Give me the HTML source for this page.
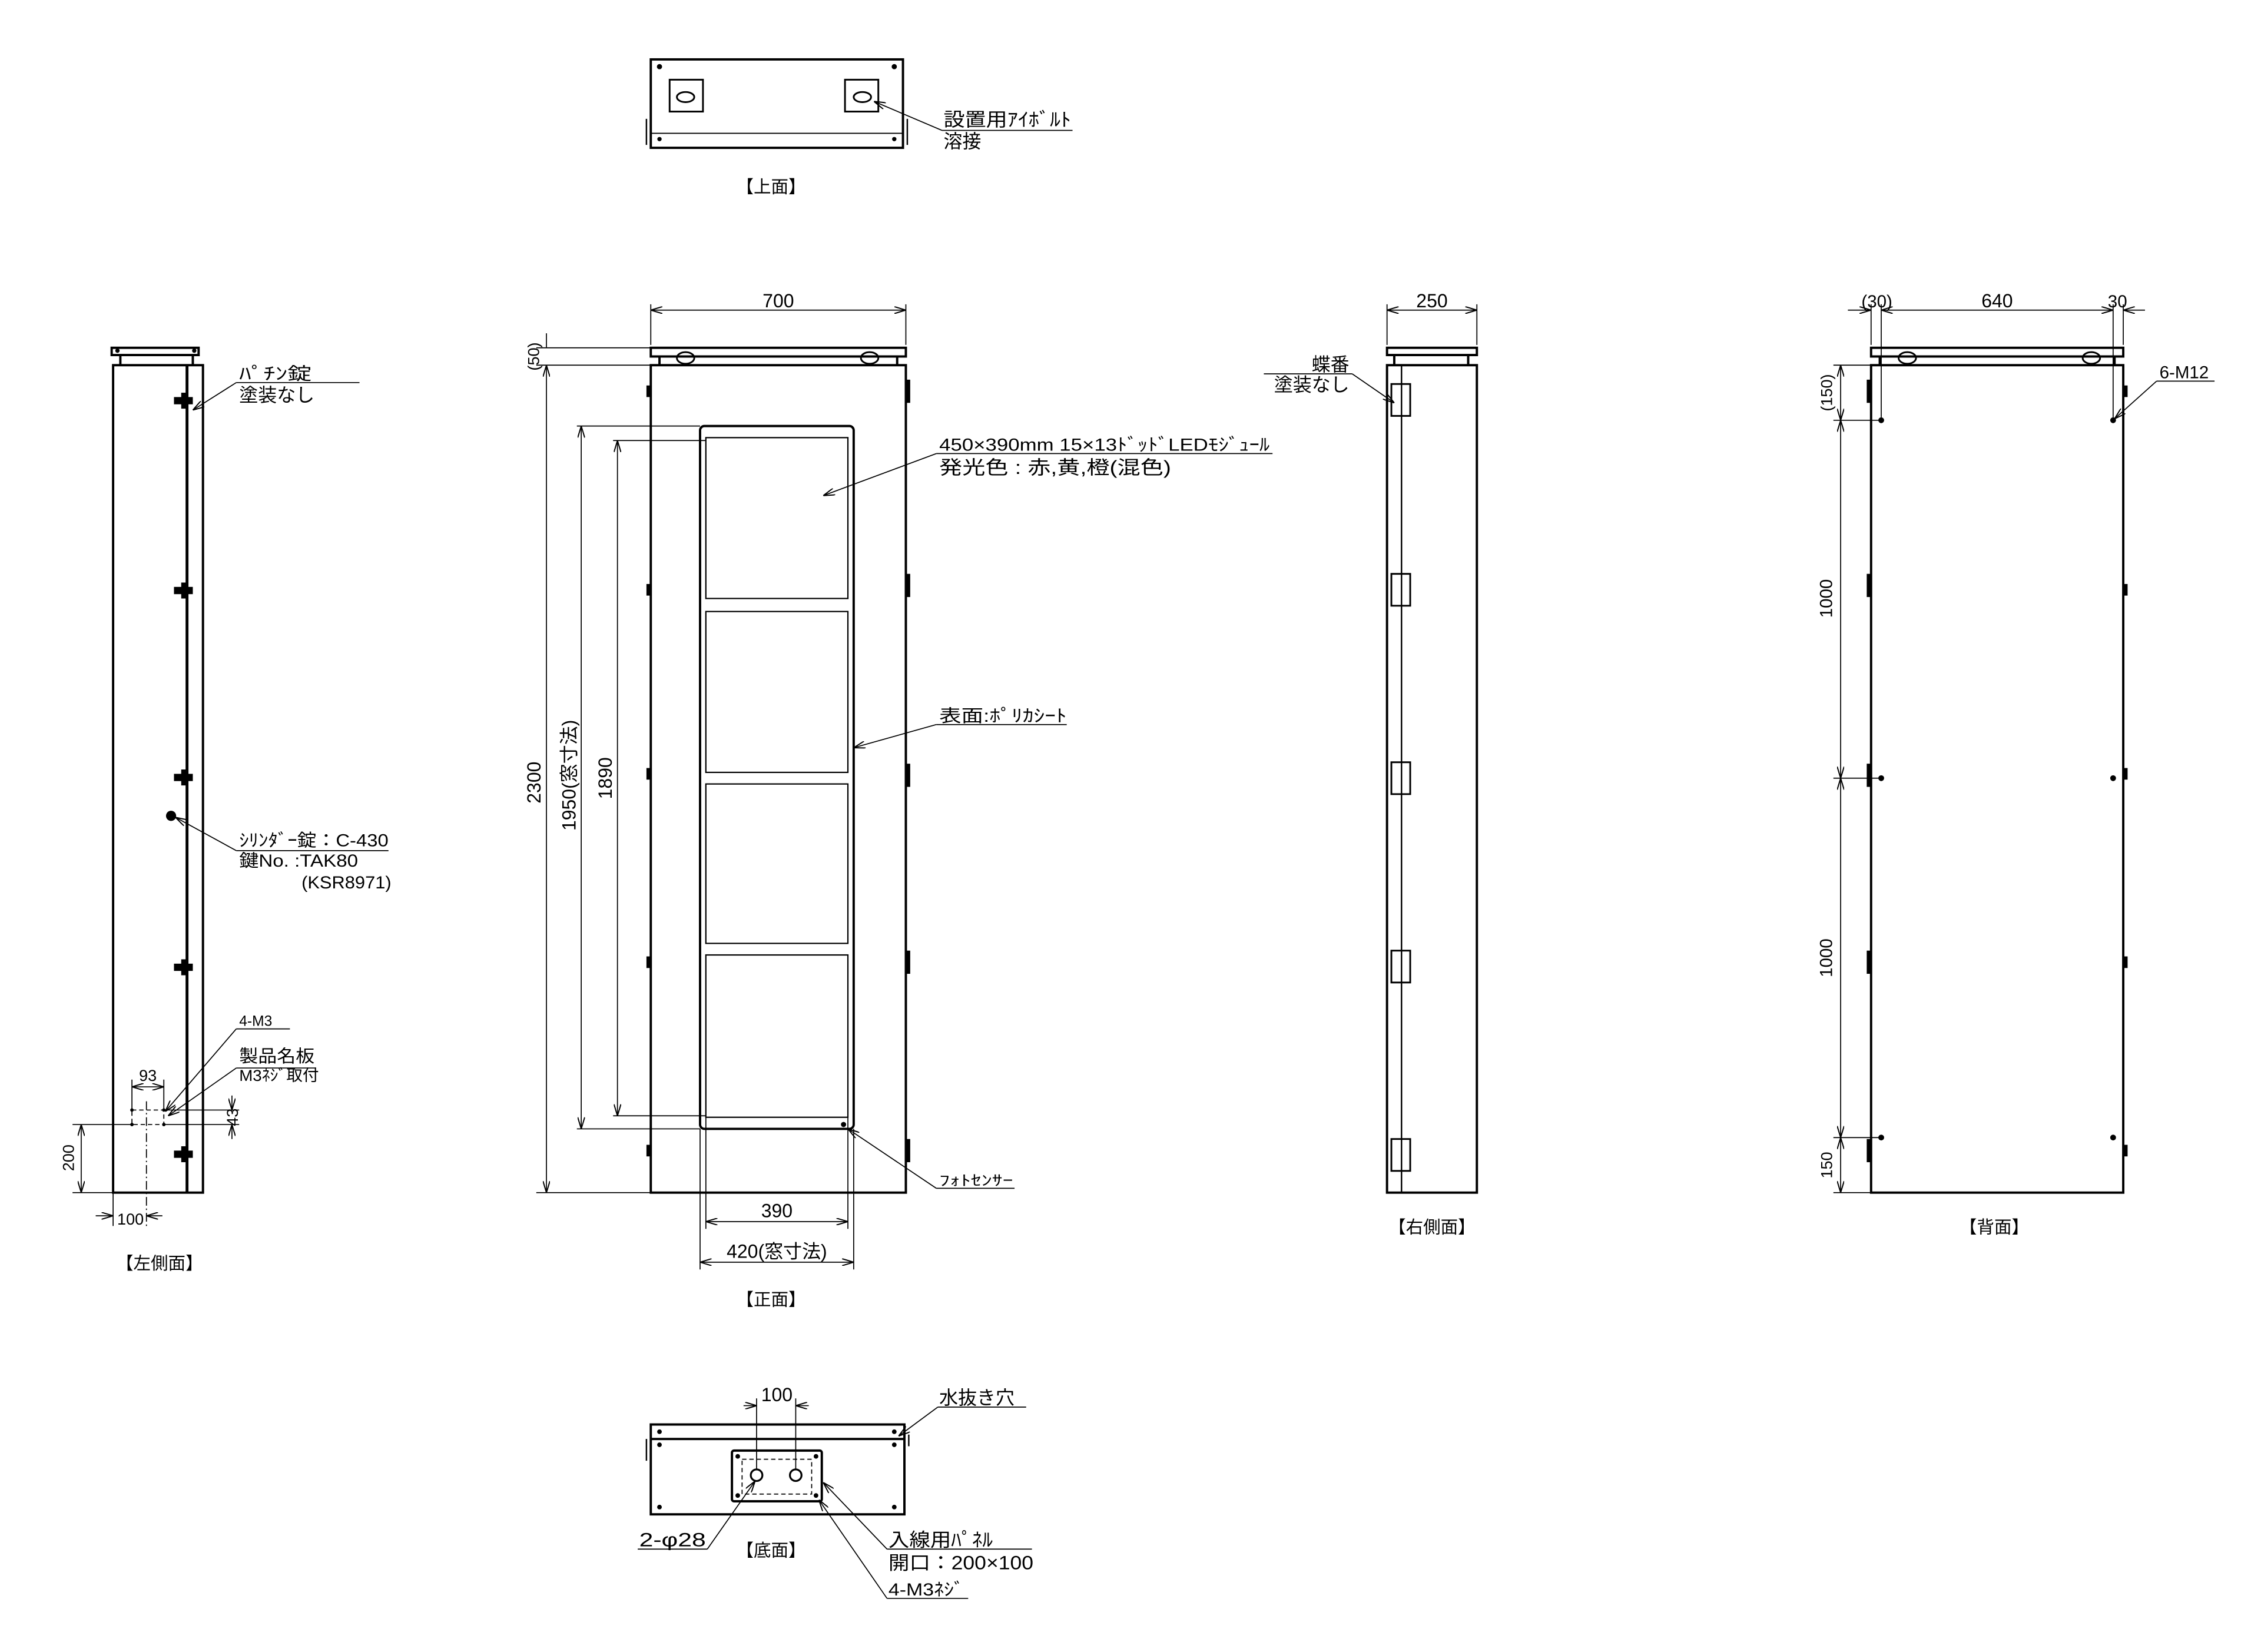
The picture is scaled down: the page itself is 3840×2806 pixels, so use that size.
<!DOCTYPE html>
<html><head><meta charset="utf-8"><style>
html,body{margin:0;padding:0;background:#fff;}
svg{display:block}
text{font-family:"Liberation Sans","Noto Sans CJK JP",sans-serif;fill:#000;}
</style></head><body>
<svg width="3840" height="2806" viewBox="0 0 1560 1140" xmlns="http://www.w3.org/2000/svg">
<defs>
<marker id="a" viewBox="0 0 10 6" refX="10" refY="3" markerWidth="8" markerHeight="5" orient="auto-start-reverse" markerUnits="userSpaceOnUse"><path d="M0,0 L10,3 L0,6" fill="none" stroke="#000" stroke-width="1"/></marker>
</defs>
<g fill="none" stroke="#000" stroke-width="1.6">
<!-- TOP VIEW -->
<rect x="449" y="41" width="174" height="61"/>
<line x1="449" y1="92" x2="623" y2="92" stroke-width="0.8"/>
<rect x="462" y="55" width="23" height="22" stroke-width="1.2"/>
<rect x="583" y="55" width="23" height="22" stroke-width="1.2"/>
<ellipse cx="473" cy="67" rx="6" ry="3.5" stroke-width="1.2"/>
<ellipse cx="595" cy="67" rx="6" ry="3.5" stroke-width="1.2"/>
<path d="M446,82 v18 M626,82 v18" stroke-width="1"/>
</g>
<g fill="#000">
<circle cx="455" cy="46" r="1.8"/><circle cx="617" cy="46" r="1.8"/>
<circle cx="455" cy="96" r="1.5"/><circle cx="617" cy="96" r="1.5"/>
</g>
<g stroke="#000" stroke-width="0.7" fill="none">
<line x1="650" y1="90" x2="740" y2="90"/><line x1="650" y1="90" x2="603" y2="70" marker-end="url(#a)"/>
</g>
<text x="651" y="87" font-size="13" textLength="88" lengthAdjust="spacingAndGlyphs">設置用ｱｲﾎﾞﾙﾄ</text>
<text x="651" y="102" font-size="13">溶接</text>
<text x="508" y="133" font-size="12">【上面】</text>

<!-- FRONT VIEW -->
<g fill="none" stroke="#000" stroke-width="1.6">
<rect x="449" y="240" width="176" height="6"/>
<rect x="449" y="252" width="176" height="571"/>
<rect x="483" y="294" width="106" height="485" rx="3"/>
<g stroke-width="0.9">
<rect x="487" y="302" width="98" height="111"/>
<rect x="487" y="422" width="98" height="111"/>
<rect x="487" y="541" width="98" height="110"/>
<rect x="487" y="659" width="98" height="112"/>
</g>
<line x1="455" y1="246" x2="455" y2="252"/><line x1="619" y1="246" x2="619" y2="252"/>
<ellipse cx="473" cy="247" rx="6" ry="4" stroke-width="1.2"/>
<ellipse cx="600" cy="247" rx="6" ry="4" stroke-width="1.2"/>
</g>
<g fill="#000">
<rect x="446" y="266" width="3" height="8"/><rect x="446" y="403" width="3" height="8"/><rect x="446" y="530" width="3" height="8"/><rect x="446" y="660" width="3" height="8"/><rect x="446" y="790" width="3" height="8"/>
<rect x="625" y="262" width="3" height="16"/><rect x="625" y="396" width="3" height="16"/><rect x="625" y="527" width="3" height="16"/><rect x="625" y="656" width="3" height="16"/><rect x="625" y="786" width="3" height="16"/>
<circle cx="582" cy="776" r="1.8"/>
</g>
<g stroke="#000" stroke-width="0.7" fill="none">
<line x1="449" y1="210" x2="449" y2="238"/><line x1="625" y1="210" x2="625" y2="238"/>
<line x1="449" y1="214" x2="625" y2="214" marker-start="url(#a)" marker-end="url(#a)"/>
<line x1="370" y1="240" x2="449" y2="240"/><line x1="370" y1="252" x2="449" y2="252"/><line x1="370" y1="823" x2="449" y2="823"/>
<line x1="377" y1="230" x2="377" y2="240" /><line x1="377" y1="252" x2="377" y2="823" marker-start="url(#a)" marker-end="url(#a)"/>
<line x1="398" y1="294" x2="483" y2="294"/><line x1="398" y1="779" x2="483" y2="779"/>
<line x1="401" y1="294" x2="401" y2="779" marker-start="url(#a)" marker-end="url(#a)"/>
<line x1="423" y1="304" x2="487" y2="304"/><line x1="423" y1="770" x2="487" y2="770"/>
<line x1="426" y1="304" x2="426" y2="770" marker-start="url(#a)" marker-end="url(#a)"/>
<line x1="487" y1="771" x2="487" y2="848"/><line x1="585" y1="771" x2="585" y2="848"/>
<line x1="483" y1="779" x2="483" y2="876"/><line x1="589" y1="779" x2="589" y2="876"/>
<line x1="487" y1="843" x2="585" y2="843" marker-start="url(#a)" marker-end="url(#a)"/>
<line x1="483" y1="871" x2="589" y2="871" marker-start="url(#a)" marker-end="url(#a)"/>
<line x1="646" y1="313" x2="878" y2="313"/><line x1="646" y1="313" x2="568" y2="342" marker-end="url(#a)"/>
<line x1="646" y1="500" x2="736" y2="500"/><line x1="646" y1="500" x2="589" y2="516" marker-end="url(#a)"/>
<line x1="646" y1="820" x2="700" y2="820"/><line x1="646" y1="820" x2="585" y2="779" marker-end="url(#a)"/>
</g>
<text x="537" y="212" font-size="13" text-anchor="middle">700</text>
<text transform="translate(372,246) rotate(-90)" font-size="11" text-anchor="middle">(50)</text>
<text transform="translate(373,540) rotate(-90)" font-size="13" text-anchor="middle">2300</text>
<text transform="translate(397,535) rotate(-90)" font-size="13" text-anchor="middle">1950(窓寸法)</text>
<text transform="translate(422,537) rotate(-90)" font-size="13" text-anchor="middle">1890</text>
<text x="536" y="840" font-size="13" text-anchor="middle">390</text>
<text x="536" y="868" font-size="13" text-anchor="middle">420(窓寸法)</text>
<text x="648" y="311" font-size="12" textLength="228" lengthAdjust="spacingAndGlyphs">450×390mm 15×13ﾄﾞｯﾄﾞLEDﾓｼﾞｭｰﾙ</text>
<text x="648" y="327" font-size="13" textLength="160" lengthAdjust="spacingAndGlyphs">発光色 : 赤,黄,橙(混色)</text>
<text x="648" y="498" font-size="12" textLength="88" lengthAdjust="spacingAndGlyphs">表面:ﾎﾟﾘｶｼｰﾄ</text>
<text x="648" y="818" font-size="10" textLength="51" lengthAdjust="spacingAndGlyphs">ﾌｫﾄｾﾝｻｰ</text>
<text x="508" y="901" font-size="12">【正面】</text>

<!-- LEFT SIDE -->
<g fill="none" stroke="#000" stroke-width="1.6">
<rect x="77" y="240" width="60" height="5"/>
<rect x="78" y="252" width="62" height="571"/>
<line x1="129" y1="252" x2="129" y2="823" stroke-width="2"/>
<line x1="83" y1="245" x2="83" y2="252"/><line x1="133" y1="245" x2="133" y2="252"/>
</g>
<g fill="#000">
<circle cx="81" cy="242" r="1.5"/><circle cx="134" cy="242" r="1.5"/>
<g id="lt"><rect x="120" y="274" width="13" height="5"/><rect x="125" y="271" width="4" height="11"/></g>
<use href="#lt" y="131"/><use href="#lt" y="260"/><use href="#lt" y="391"/><use href="#lt" y="520"/>
<circle cx="118" cy="563" r="3.5"/>
<circle cx="91" cy="766" r="1.2"/><circle cx="113" cy="766" r="1.2"/><circle cx="91" cy="776" r="1.2"/><circle cx="113" cy="776" r="1.2"/>
</g>
<g stroke="#000" stroke-width="0.7" fill="none">
<rect x="91" y="766" width="22" height="10" stroke-dasharray="3,2"/>
<line x1="101" y1="760" x2="101" y2="846" stroke-dasharray="6,2,1,2"/>
<line x1="163" y1="264" x2="248" y2="264"/><line x1="163" y1="264" x2="133" y2="283" marker-end="url(#a)"/>
<line x1="163" y1="587" x2="268" y2="587"/><line x1="163" y1="587" x2="121" y2="564" marker-end="url(#a)"/>
<line x1="163" y1="710" x2="200" y2="710"/><line x1="163" y1="710" x2="114" y2="767" marker-end="url(#a)"/>
<line x1="163" y1="737" x2="218" y2="737"/><line x1="163" y1="737" x2="116" y2="770" marker-end="url(#a)"/>
<line x1="91" y1="745" x2="91" y2="766"/><line x1="113" y1="745" x2="113" y2="766"/>
<line x1="91" y1="750" x2="113" y2="750" marker-start="url(#a)" marker-end="url(#a)"/>
<line x1="113" y1="766" x2="165" y2="766"/><line x1="113" y1="776" x2="165" y2="776"/>
<line x1="160" y1="756" x2="160" y2="766" marker-end="url(#a)"/><line x1="160" y1="786" x2="160" y2="776" marker-end="url(#a)"/>
<line x1="50" y1="776" x2="91" y2="776"/><line x1="50" y1="823" x2="78" y2="823"/>
<line x1="56" y1="776" x2="56" y2="823" marker-start="url(#a)" marker-end="url(#a)"/>
<line x1="78" y1="823" x2="78" y2="846"/>
<line x1="66" y1="839" x2="78" y2="839" marker-end="url(#a)"/><line x1="112" y1="839" x2="101" y2="839" marker-end="url(#a)"/>
</g>
<text x="165" y="262" font-size="12" textLength="50" lengthAdjust="spacingAndGlyphs">ﾊﾟﾁﾝ錠</text>
<text x="165" y="277" font-size="13">塗装なし</text>
<text x="165" y="584" font-size="12" textLength="103" lengthAdjust="spacingAndGlyphs">ｼﾘﾝﾀﾞｰ錠：C-430</text>
<text x="165" y="598" font-size="12" textLength="82" lengthAdjust="spacingAndGlyphs">鍵No. :TAK80</text>
<text x="208" y="613" font-size="12" textLength="62" lengthAdjust="spacingAndGlyphs">(KSR8971)</text>
<text x="165" y="708" font-size="10">4-M3</text>
<text x="165" y="733" font-size="12" textLength="52" lengthAdjust="spacingAndGlyphs">製品名板</text>
<text x="165" y="746" font-size="11" textLength="55" lengthAdjust="spacingAndGlyphs">M3ﾈｼﾞ取付</text>
<text x="102" y="746" font-size="11" text-anchor="middle">93</text>
<text transform="translate(164,771) rotate(-90)" font-size="11" text-anchor="middle">43</text>
<text transform="translate(51,799) rotate(-90)" font-size="11" text-anchor="middle">200</text>
<text x="90" y="845" font-size="11" text-anchor="middle">100</text>
<text x="80" y="876" font-size="12">【左側面】</text>

<!-- RIGHT SIDE -->
<g fill="none" stroke="#000" stroke-width="1.6">
<rect x="957" y="240" width="62" height="5"/>
<rect x="957" y="252" width="62" height="571"/>
<line x1="967" y1="252" x2="967" y2="823" stroke-width="1"/>
<line x1="962" y1="245" x2="962" y2="252"/><line x1="1013" y1="245" x2="1013" y2="252"/>
</g>
<g fill="none" stroke="#000" stroke-width="1.2">
<rect x="960" y="265" width="13" height="22"/><rect x="960" y="396" width="13" height="22"/><rect x="960" y="526" width="13" height="22"/><rect x="960" y="656" width="13" height="22"/><rect x="960" y="786" width="13" height="22"/>
</g>
<g stroke="#000" stroke-width="0.7" fill="none">
<line x1="957" y1="210" x2="957" y2="238"/><line x1="1019" y1="210" x2="1019" y2="238"/>
<line x1="957" y1="214" x2="1019" y2="214" marker-start="url(#a)" marker-end="url(#a)"/>
<line x1="872" y1="258" x2="933" y2="258"/><line x1="933" y1="258" x2="962" y2="278" marker-end="url(#a)"/>
</g>
<text x="988" y="212" font-size="13" text-anchor="middle">250</text>
<text x="931" y="256" font-size="13" text-anchor="end">蝶番</text>
<text x="931" y="270" font-size="13" text-anchor="end">塗装なし</text>
<text x="958" y="851" font-size="12">【右側面】</text>

<!-- BACK -->
<g fill="none" stroke="#000" stroke-width="1.6">
<rect x="1291" y="240" width="174" height="6"/>
<rect x="1291" y="252" width="174" height="571"/>
<line x1="1297" y1="246" x2="1297" y2="252"/><line x1="1459" y1="246" x2="1459" y2="252"/>
<ellipse cx="1316" cy="247" rx="6" ry="4" stroke-width="1.2"/>
<ellipse cx="1443" cy="247" rx="6" ry="4" stroke-width="1.2"/>
</g>
<g fill="#000">
<circle cx="1298" cy="290" r="2"/><circle cx="1458" cy="290" r="2"/><circle cx="1298" cy="537" r="2"/><circle cx="1458" cy="537" r="2"/><circle cx="1298" cy="785" r="2"/><circle cx="1458" cy="785" r="2"/>
<rect x="1288" y="262" width="3" height="16"/><rect x="1288" y="396" width="3" height="16"/><rect x="1288" y="527" width="3" height="16"/><rect x="1288" y="656" width="3" height="16"/><rect x="1288" y="786" width="3" height="16"/>
<rect x="1465" y="266" width="3" height="8"/><rect x="1465" y="403" width="3" height="8"/><rect x="1465" y="530" width="3" height="8"/><rect x="1465" y="660" width="3" height="8"/><rect x="1465" y="790" width="3" height="8"/>
</g>
<g stroke="#000" stroke-width="0.7" fill="none">
<line x1="1291" y1="210" x2="1291" y2="238"/><line x1="1298" y1="210" x2="1298" y2="288"/><line x1="1458" y1="210" x2="1458" y2="288"/><line x1="1465" y1="210" x2="1465" y2="238"/>
<line x1="1275" y1="214" x2="1291" y2="214" marker-end="url(#a)"/><line x1="1298" y1="214" x2="1458" y2="214" marker-start="url(#a)" marker-end="url(#a)"/><line x1="1480" y1="214" x2="1465" y2="214" marker-end="url(#a)"/>
<line x1="1265" y1="252" x2="1291" y2="252"/><line x1="1265" y1="290" x2="1298" y2="290"/><line x1="1265" y1="537" x2="1298" y2="537"/><line x1="1265" y1="785" x2="1298" y2="785"/><line x1="1265" y1="823" x2="1291" y2="823"/>
<line x1="1270" y1="252" x2="1270" y2="290" marker-start="url(#a)" marker-end="url(#a)"/>
<line x1="1270" y1="290" x2="1270" y2="537" marker-start="url(#a)" marker-end="url(#a)"/>
<line x1="1270" y1="537" x2="1270" y2="785" marker-start="url(#a)" marker-end="url(#a)"/>
<line x1="1270" y1="785" x2="1270" y2="823" marker-start="url(#a)" marker-end="url(#a)"/>
<line x1="1488" y1="263" x2="1528" y2="263"/><line x1="1488" y1="263" x2="1459" y2="289" marker-end="url(#a)"/>
</g>
<text x="1295" y="212" font-size="12" text-anchor="middle">(30)</text>
<text x="1378" y="212" font-size="13" text-anchor="middle">640</text>
<text x="1461" y="212" font-size="12" text-anchor="middle">30</text>
<text x="1490" y="261" font-size="12">6-M12</text>
<text transform="translate(1264,271) rotate(-90)" font-size="11" text-anchor="middle">(150)</text>
<text transform="translate(1264,413) rotate(-90)" font-size="12" text-anchor="middle">1000</text>
<text transform="translate(1264,661) rotate(-90)" font-size="12" text-anchor="middle">1000</text>
<text transform="translate(1264,804) rotate(-90)" font-size="11" text-anchor="middle">150</text>
<text x="1352" y="851" font-size="12">【背面】</text>

<!-- BOTTOM -->
<g fill="none" stroke="#000" stroke-width="1.6">
<rect x="449" y="983" width="175" height="62"/>
<line x1="449" y1="993" x2="624" y2="993"/>
<rect x="505" y="1001" width="62" height="35" rx="1.5"/>
<circle cx="522" cy="1018" r="4" stroke-width="1.3"/><circle cx="549" cy="1018" r="4" stroke-width="1.3"/>
<rect x="512" y="1007" width="48" height="24" stroke-width="0.7" stroke-dasharray="3,2"/>
<path d="M446,993 v15 M627,990 v8" stroke-width="1"/>
</g>
<g fill="#000">
<circle cx="455" cy="988" r="1.6"/><circle cx="617" cy="988" r="1.6"/><circle cx="455" cy="997" r="1.6"/><circle cx="617" cy="997" r="1.6"/><circle cx="455" cy="1040" r="1.6"/><circle cx="617" cy="1040" r="1.6"/>
<circle cx="509" cy="1005" r="1.6"/><circle cx="563" cy="1005" r="1.6"/><circle cx="509" cy="1032" r="1.6"/><circle cx="563" cy="1032" r="1.6"/>
</g>
<g stroke="#000" stroke-width="0.7" fill="none">
<line x1="522" y1="965" x2="522" y2="1014"/><line x1="549" y1="965" x2="549" y2="1014"/>
<line x1="513" y1="970" x2="522" y2="970" marker-end="url(#a)"/><line x1="558" y1="970" x2="549" y2="970" marker-end="url(#a)"/>
<line x1="647" y1="971" x2="708" y2="971"/><line x1="647" y1="971" x2="620" y2="991" marker-end="url(#a)"/>
<line x1="440" y1="1069" x2="488" y2="1069"/><line x1="488" y1="1069" x2="521" y2="1022" marker-end="url(#a)"/>
<line x1="612" y1="1069" x2="712" y2="1069"/><line x1="612" y1="1069" x2="568" y2="1023" marker-end="url(#a)"/>
<line x1="612" y1="1103" x2="668" y2="1103"/><line x1="612" y1="1103" x2="565" y2="1035" marker-end="url(#a)"/>
</g>
<text x="536" y="967" font-size="13" text-anchor="middle">100</text>
<text x="648" y="969" font-size="13">水抜き穴</text>
<text x="441" y="1067" font-size="13" textLength="46" lengthAdjust="spacingAndGlyphs">2-φ28</text>
<text x="508" y="1074" font-size="12">【底面】</text>
<text x="613" y="1067" font-size="13" textLength="72" lengthAdjust="spacingAndGlyphs">入線用ﾊﾟﾈﾙ</text>
<text x="613" y="1083" font-size="13" textLength="100" lengthAdjust="spacingAndGlyphs">開口：200×100</text>
<text x="613" y="1101" font-size="12" textLength="52" lengthAdjust="spacingAndGlyphs">4-M3ﾈｼﾞ</text>
</svg>
</body></html>
